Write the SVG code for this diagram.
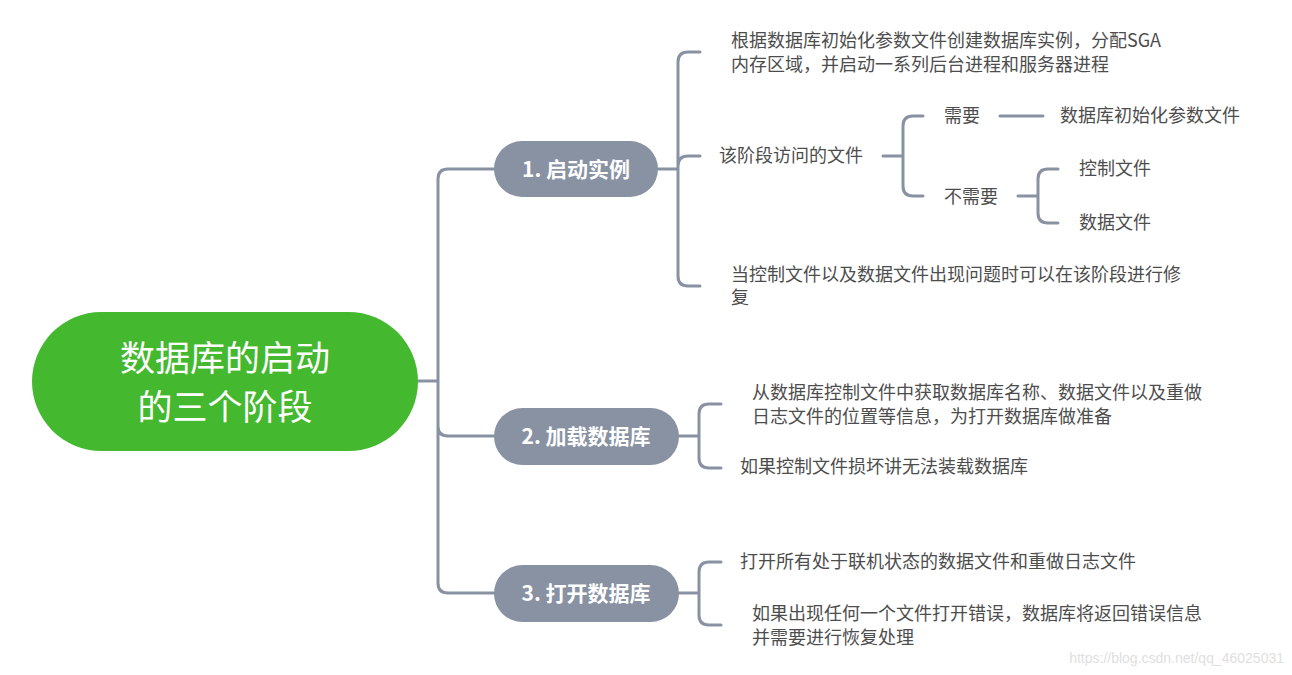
<svg xmlns="http://www.w3.org/2000/svg" width="1292" height="675" viewBox="0 0 1292 675">
<style>
.c{fill:none;stroke:#8892a3;stroke-width:3;stroke-linecap:round;stroke-linejoin:round}
.t{font-family:"Noto Sans CJK SC","Liberation Sans",sans-serif;font-size:18px;fill:#4d4d4d}
.b{font-family:"Noto Sans CJK SC","Liberation Sans",sans-serif;font-size:21px;font-weight:bold;fill:#fff;text-anchor:middle}
.n{fill:#8892a3}
</style>
<rect width="1292" height="675" fill="#fff"/>
<g id="connectors">
<path class="c" d="M418 381H438M494 169H448Q438 169 438 179V583Q438 593 448 593H494M438 426Q438 436 448 436H494"/>
<path class="c" d="M658 169H678M700 52H688Q678 52 678 62V276Q678 286 688 286H700M678 166Q678 156 688 156H700"/>
<path class="c" d="M883 156H903M923 116H913Q903 116 903 126V186Q903 196 913 196H923"/>
<path class="c" d="M1000 116H1043"/>
<path class="c" d="M1018 196H1038M1058 169H1048Q1038 169 1038 179V213Q1038 223 1048 223H1058"/>
<path class="c" d="M679 436H699M721 404H709Q699 404 699 414V458Q699 468 709 468H721"/>
<path class="c" d="M679 593H699M721 562H709Q699 562 699 572V615Q699 625 709 625H721"/>
</g>
<g id="root"><rect x="32" y="312" width="386" height="139" rx="69.5" fill="#44b82e"/>
<text font-family="Noto Sans CJK SC,sans-serif" font-size="35" fill="#fff" text-anchor="middle"><tspan x="225" y="371">数据库的启动</tspan><tspan x="225" y="420">的三个阶段</tspan></text></g>
<g id="n1"><rect class="n" x="494" y="141" width="164" height="56" rx="28"/><text class="b" x="576" y="177">1. 启动实例</text></g>
<g id="n2"><rect class="n" x="494" y="408" width="185" height="57" rx="28.5"/><text class="b" x="586" y="444">2. 加载数据库</text></g>
<g id="n3"><rect class="n" x="494" y="565" width="185" height="57" rx="28.5"/><text class="b" x="586" y="601">3. 打开数据库</text></g>
<g id="n1a"><text class="t"><tspan x="731" y="47">根据数据库初始化参数文件创建数据库实例，分配SGA</tspan><tspan x="731" y="71">内存区域，并启动一系列后台进程和服务器进程</tspan></text></g>
<g id="n1b"><text class="t" x="719" y="162">该阶段访问的文件</text></g>
<g id="n1b1"><text class="t" x="944" y="122">需要</text></g>
<g id="n1b1a"><text class="t" x="1060" y="122">数据库初始化参数文件</text></g>
<g id="n1b2"><text class="t" x="944" y="203">不需要</text></g>
<g id="n1b2a"><text class="t" x="1079" y="175">控制文件</text></g>
<g id="n1b2b"><text class="t" x="1079" y="229">数据文件</text></g>
<g id="n1c"><text class="t"><tspan x="731" y="281">当控制文件以及数据文件出现问题时可以在该阶段进行修</tspan><tspan x="731" y="304">复</tspan></text></g>
<g id="n2a"><text class="t"><tspan x="752" y="399">从数据库控制文件中获取数据库名称、数据文件以及重做</tspan><tspan x="752" y="423">日志文件的位置等信息，为打开数据库做准备</tspan></text></g>
<g id="n2b"><text class="t" x="740" y="473">如果控制文件损坏讲无法装载数据库</text></g>
<g id="n3a"><text class="t" x="740" y="568">打开所有处于联机状态的数据文件和重做日志文件</text></g>
<g id="n3b"><text class="t"><tspan x="752" y="620">如果出现任何一个文件打开错误，数据库将返回错误信息</tspan><tspan x="752" y="644">并需要进行恢复处理</tspan></text></g>
<text x="1284" y="663" text-anchor="end" font-family="Liberation Sans,sans-serif" font-size="14" fill="#e0e0e0">https://blog.csdn.net/qq_46025031</text>
</svg>
